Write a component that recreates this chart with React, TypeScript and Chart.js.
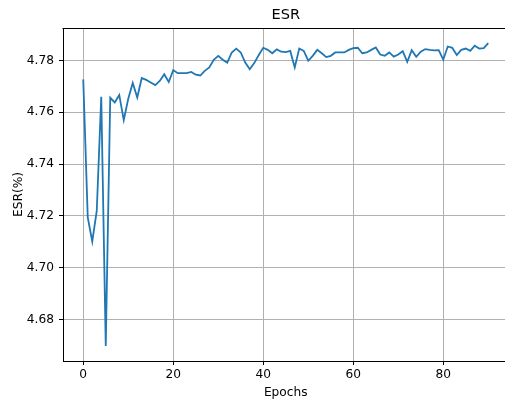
import React, { useEffect, useRef } from "react";
import { Chart, registerables } from "chart.js";

Chart.register(...registerables);

const TITLE = "ESR";
const X_LABEL = "Epochs";
const Y_LABEL = "ESR(%)";

const epochs = [
  0, 1, 2, 3, 4, 5, 6, 7, 8, 9,
  10, 11, 12, 13, 14, 15, 16, 17, 18, 19,
  20, 21, 22, 23, 24, 25, 26, 27, 28, 29,
  30, 31, 32, 33, 34, 35, 36, 37, 38, 39,
  40, 41, 42, 43, 44, 45, 46, 47, 48, 49,
  50, 51, 52, 53, 54, 55, 56, 57, 58, 59,
  60, 61, 62, 63, 64, 65, 66, 67, 68, 69,
  70, 71, 72, 73, 74, 75, 76, 77, 78, 79,
  80, 81, 82, 83, 84, 85, 86, 87, 88, 89,
  90,
];

const esr = [
  4.7727, 4.7194, 4.7101, 4.7219, 4.766, 4.6698, 4.7656, 4.7638, 4.7667, 4.757,
  4.7652, 4.7713, 4.7657, 4.7732, 4.7725, 4.7715, 4.7705, 4.7721, 4.7747, 4.7717,
  4.7763, 4.7751, 4.7751, 4.7751, 4.7756, 4.7745, 4.7742, 4.776, 4.7773, 4.7803,
  4.7818, 4.7803, 4.7792, 4.7831, 4.7846, 4.7831, 4.7792, 4.7766, 4.779, 4.7821,
  4.7849, 4.7841, 4.7828, 4.7843, 4.7834, 4.7832, 4.7837, 4.7773, 4.7846, 4.7837,
  4.7799, 4.7818, 4.7841, 4.7828, 4.7813, 4.7818, 4.7831, 4.7831, 4.7831, 4.7841,
  4.7848, 4.7849, 4.7828, 4.7831, 4.7841, 4.785, 4.7823, 4.7818, 4.7831, 4.7815,
  4.7823, 4.7836, 4.7795, 4.784, 4.7814, 4.7834, 4.7844, 4.7841, 4.7839, 4.784,
  4.7803, 4.7854, 4.7849, 4.7821, 4.7841, 4.7846, 4.7837, 4.7857, 4.7846, 4.7848,
  4.7867,
];

const xTicks = [0, 20, 40, 60, 80];
const yTicks = [4.68, 4.7, 4.72, 4.74, 4.76, 4.78];

const FONT = "'DejaVu Sans', 'Liberation Sans', sans-serif";

export default function App() {
  const ref = useRef<HTMLCanvasElement | null>(null);

  useEffect(() => {
    if (!ref.current) return;
    const yMinD = Math.min(...esr);
    const yMaxD = Math.max(...esr);
    const yPad = (yMaxD - yMinD) * 0.05;
    const xMinD = epochs[0];
    const xMaxD = epochs[epochs.length - 1];
    const xPad = (xMaxD - xMinD) * 0.05;

    const framePlugin = {
      id: "frame",
      afterDraw(chart: any) {
        const { ctx, chartArea } = chart;
        const { left, right, top, bottom } = chartArea;
        ctx.save();
        ctx.strokeStyle = "#000";
        ctx.lineWidth = 1;
        ctx.beginPath();
        ctx.moveTo(Math.round(left) - 0.5, Math.round(top) + 0.5);
        ctx.lineTo(Math.round(right) + 0.5, Math.round(top) + 0.5);
        ctx.lineTo(Math.round(right) + 0.5, Math.round(bottom) + 0.5);
        ctx.stroke();

        ctx.fillStyle = "#000";
        const cx = (left + right) / 2;
        ctx.font = `14.6px ${FONT}`;
        ctx.textAlign = "center";
        ctx.textBaseline = "alphabetic";
        ctx.fillText(TITLE, cx, 18.5);

        ctx.font = `12.2px ${FONT}`;
        ctx.fillText(X_LABEL, cx, 396);

        ctx.translate(22, (top + bottom) / 2);
        ctx.rotate(-Math.PI / 2);
        ctx.fillText(Y_LABEL, 0, 0);
        ctx.restore();
      },
    };

    const chart = new Chart(ref.current, {
      type: "line",
      data: {
        datasets: [
          {
            data: epochs.map((e, i) => ({ x: e, y: esr[i] })),
            borderColor: "#1f77b4",
            borderWidth: 1.8,
            pointRadius: 0,
            tension: 0,
            fill: false,
          },
        ],
      },
      options: {
        animation: false,
        responsive: false,
        devicePixelRatio: 1,
        layout: { padding: { top: 28, right: 91.5, left: 0, bottom: 0 } },
        plugins: {
          legend: { display: false },
          title: { display: false },
          tooltip: { enabled: false },
        },
        scales: {
          x: {
            type: "linear",
            min: xMinD - xPad,
            max: xMaxD + xPad,
            afterBuildTicks: (s: any) => {
              s.ticks = xTicks.map((v) => ({ value: v }));
            },
            afterFit: (s: any) => {
              s.height = 40;
            },
            grid: {
              color: "#b0b0b0",
              lineWidth: 1,
              tickColor: "#000",
              tickLength: 4,
              drawTicks: true,
            },
            border: { display: true, color: "#000", width: 1 },
            ticks: {
              color: "#000",
              font: { family: FONT, size: 12.2 },
              padding: 3,
              maxRotation: 0,
              autoSkip: false,
              callback: (v: any) => String(v),
            },
          },
          y: {
            type: "linear",
            min: yMinD - yPad,
            max: yMaxD + yPad,
            afterBuildTicks: (s: any) => {
              s.ticks = yTicks.map((v) => ({ value: v }));
            },
            afterFit: (s: any) => {
              s.width = 63;
            },
            grid: {
              color: "#b0b0b0",
              lineWidth: 1,
              tickColor: "#000",
              tickLength: 4,
              drawTicks: true,
            },
            border: { display: true, color: "#000", width: 1 },
            ticks: {
              color: "#000",
              font: { family: FONT, size: 12.2 },
              padding: 5,
              autoSkip: false,
              callback: (v: any) => Number(v).toFixed(2),
            },
          },
        },
      },
      plugins: [framePlugin],
    });
    return () => chart.destroy();
  }, []);

  return (
    <div
      style={{
        position: "fixed",
        left: 0,
        top: 0,
        width: 505,
        height: 401,
        overflow: "hidden",
        background: "#fff",
      }}
    >
      <canvas ref={ref} width={600} height={401} style={{ display: "block" }} />
    </div>
  );
}
